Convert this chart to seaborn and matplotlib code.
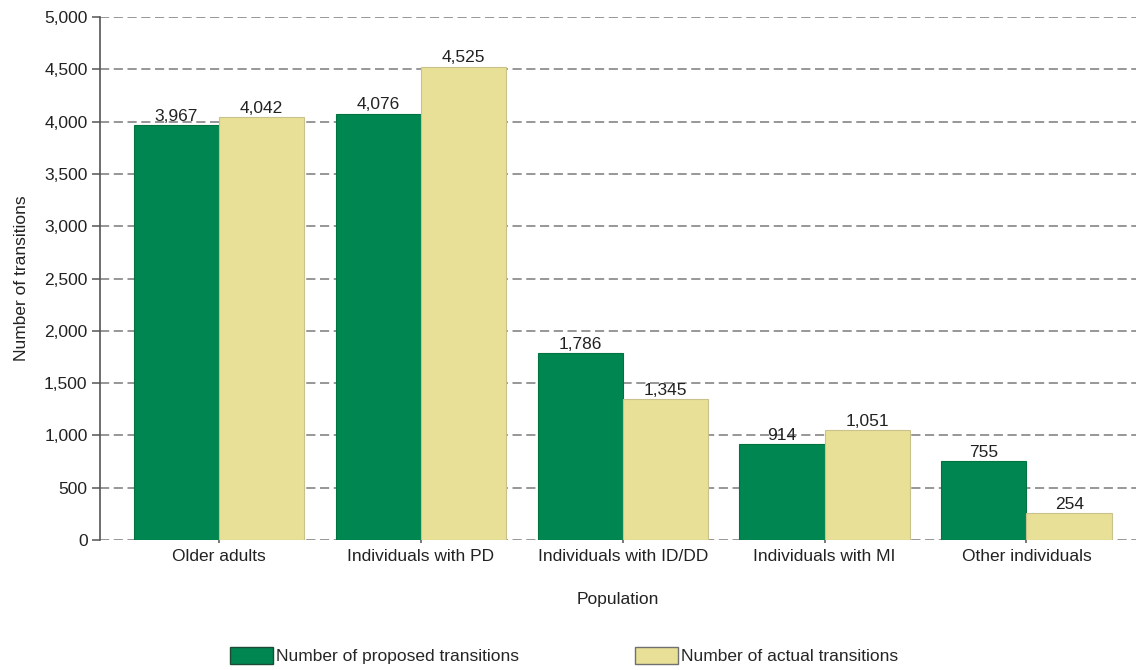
import pandas as pd
import matplotlib.pyplot as plt
import seaborn as sns
from matplotlib.patches import Patch
from matplotlib.ticker import FuncFormatter

populations = ['Older adults', 'Individuals with PD', 'Individuals with ID/DD',
               'Individuals with MI', 'Other individuals']
proposed = [3967, 4076, 1786, 914, 755]
actual = [4042, 4525, 1345, 1051, 254]
series_names = ['Number of proposed transitions', 'Number of actual transitions']

GREEN = '#008751'
YELLOW = '#E8E096'

df = pd.DataFrame({
    'Population': populations * 2,
    'Value': proposed + actual,
    'Series': [series_names[0]] * 5 + [series_names[1]] * 5,
})

sns.set_style('white')
plt.rcParams['font.family'] = ['Liberation Sans', 'DejaVu Sans']
FS = 12.5

fig = plt.figure(figsize=(11.39, 6.70), dpi=100)
ax = fig.add_axes([0.0878, 0.194, 0.91, 0.7806])

sns.barplot(data=df, x='Population', y='Value', hue='Series',
            palette=[GREEN, YELLOW], saturation=1, width=0.845, ax=ax,
            legend=False, zorder=3)

edge = {0: '#00733f', 1: '#c9c28c'}
for i, container in enumerate(ax.containers):
    for bar in container:
        bar.set_edgecolor(edge[i])
        bar.set_linewidth(0.8)
    ax.bar_label(container, labels=[f'{v:,.0f}' for v in container.datavalues],
                 padding=1, fontsize=FS, color='#222222')

ax.set_ylim(0, 5000)
ax.set_xlim(-0.59, 4.545)
ax.set_yticks(range(0, 5001, 500))
ax.yaxis.set_major_formatter(FuncFormatter(lambda v, p: f'{v:,.0f}'))
ax.grid(axis='y', linestyle=(0, (6, 3)), color='#7a7a7a', linewidth=1.1, zorder=0)

for s in ['top', 'right', 'bottom']:
    ax.spines[s].set_visible(False)
ax.spines['left'].set_color('#555555')
ax.spines['left'].set_linewidth(1.2)

ax.tick_params(axis='y', length=6, width=1.1, color='#555555', labelsize=FS,
               labelcolor='#222222', pad=3, left=True)
ax.tick_params(axis='x', length=5, width=1.1, color='#555555', labelsize=FS,
               labelcolor='#222222', pad=4, bottom=True, direction='inout')

ax.set_xlabel('Population', fontsize=FS, color='#222222', labelpad=20)
ax.set_ylabel('Number of transitions', fontsize=FS, color='#222222', labelpad=11)

handles = [Patch(facecolor=GREEN, edgecolor='#1e4a33', linewidth=1.0),
           Patch(facecolor=YELLOW, edgecolor='#707070', linewidth=1.0)]
fig.legend(handles, series_names, loc='lower center', bbox_to_anchor=(0.495, -0.015),
           ncol=2, frameon=False, fontsize=FS, handlelength=2.5, handleheight=1.05,
           handletextpad=0.15, columnspacing=6.7)

fig.savefig('out.png', dpi=100)
